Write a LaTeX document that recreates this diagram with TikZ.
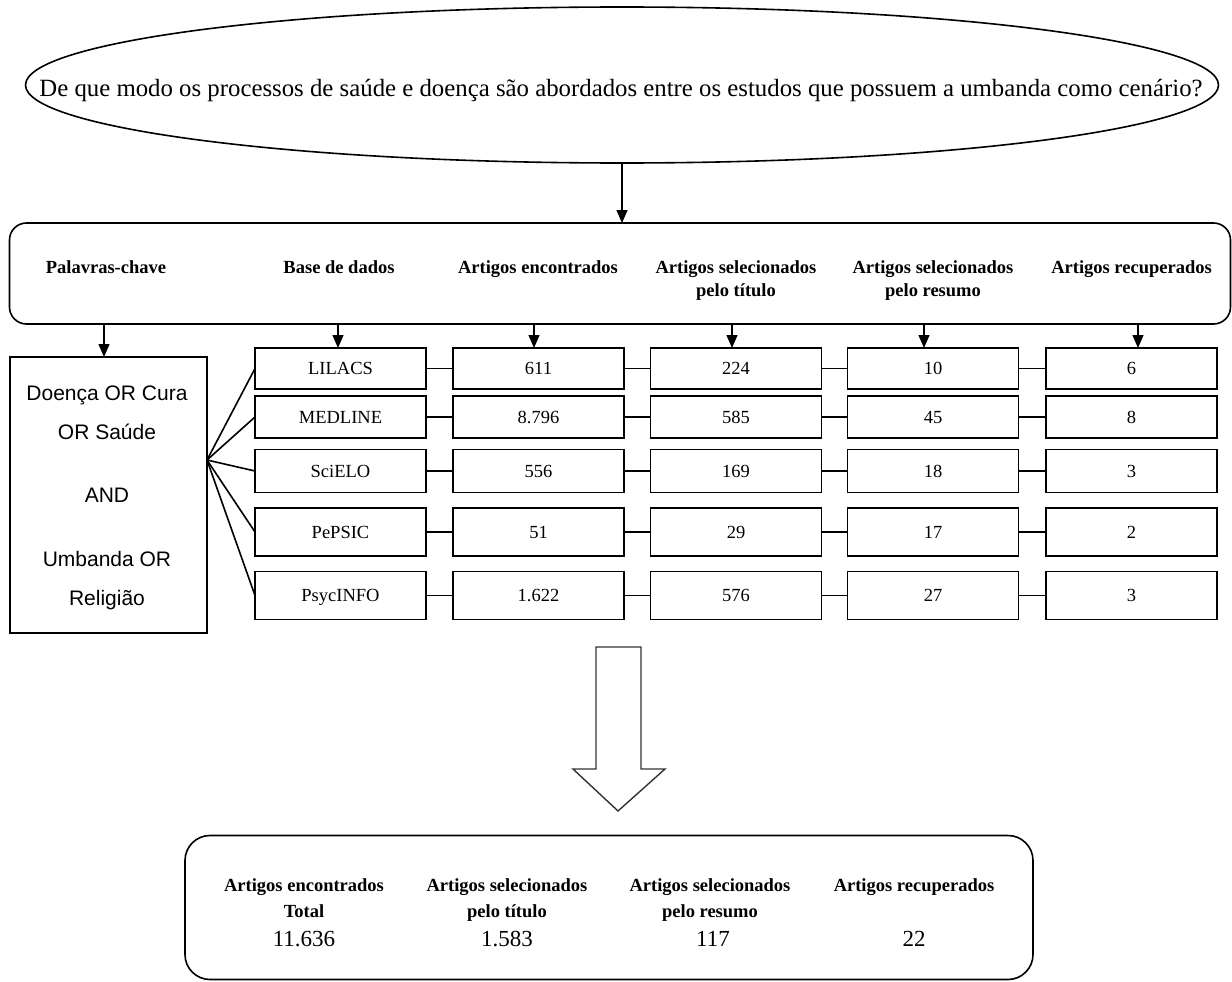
\documentclass[tikz,border=0pt]{standalone}
\usepackage{fontspec}
\setmainfont{Liberation Serif}
\newfontfamily\kwfont{Liberation Sans}
\usetikzlibrary{arrows.meta,shapes.geometric}
\begin{document}
\begin{tikzpicture}[x=1pt,y=-1pt,
  box/.style={draw,line width=1.6pt,minimum width=171pt,inner sep=0pt,outer sep=0pt,
              text height=12.5pt,text depth=0pt,font=\fontsize{18.5}{22}\selectfont},
  hdr/.style={font=\bfseries\fontsize{18.5}{23}\selectfont,align=center,inner sep=0pt},
  shdr/.style={font=\bfseries\fontsize{18.5}{26}\selectfont,align=center,inner sep=0pt},
  num/.style={font=\fontsize{23}{27}\selectfont,inner sep=0pt,anchor=base},
  arr/.style={-{Triangle[length=13pt,width=11pt]},line width=1.4pt},
  link/.style={line width=1.6pt}]

\useasboundingbox (0,0) rectangle (1232,982);

% question ellipse
\node[ellipse,draw,line width=1.6pt,minimum width=1193pt,minimum height=156pt,inner sep=0pt] (q) at (622,85) {};
\node[font=\fontsize{24.8}{30}\selectfont,inner sep=0pt,anchor=base] (qt) at (621,96.5)
  {De que modo os processos de saúde e doença são abordados entre os estudos que possuem a umbanda como cenário?};

% header box
\node[draw,rounded corners=17pt,line width=1.6pt,minimum width=1221pt,minimum height=101pt,inner sep=0pt,outer sep=0pt] (top) at (620,273.5) {};
\draw[arr] (q.south) -- (q.south |- top.north);

\node[hdr] (h1) at (106,268.4) {\strut Palavras-chave};
\node[hdr] (h2) at (339,268.4) {\strut Base de dados};
\node[hdr] (h3) at (538,268.4) {\strut Artigos encontrados};
\node[hdr] (h4) at (736,279.9) {\strut Artigos selecionados\\\strut pelo título};
\node[hdr] (h5) at (933,279.9) {\strut Artigos selecionados\\\strut pelo resumo};
\node[hdr] (h6) at (1131.5,268.4) {\strut Artigos recuperados};

% keyword box
\node[draw,line width=1.6pt,minimum width=197pt,minimum height=276pt,inner sep=0pt,outer sep=0pt] (kw) at (108.5,495) {};
\node[font=\kwfont\fontsize{21}{39}\selectfont,align=center,inner sep=0pt] (kwt) at (107,495.2)
  {\strut Doença OR Cura\\\strut OR Saúde\\[24pt]\strut AND\\[25pt]\strut Umbanda OR\\\strut Religião};
\draw[arr] (top.south -| 104,0) -- (kw.north -| 104,0);
\coordinate (fan) at ([yshift=35pt]kw.east);

% rows
\foreach \r/\y/\h/\a/\b/\c/\d/\e in {
  1/368.5/41/LILACS/611/224/10/6,
  2/417/42/MEDLINE/8.796/585/45/8,
  3/471/43/SciELO/556/169/18/3,
  4/532/48/PePSIC/51/29/17/2,
  5/595.5/48/PsycINFO/1.622/576/27/3}{
  \node[box,minimum height=\h pt] (a\r) at (340.5,\y) {\a};
  \node[box,minimum height=\h pt] (b\r) at (538.5,\y) {\b};
  \node[box,minimum height=\h pt] (c\r) at (736,\y) {\c};
  \node[box,minimum height=\h pt] (d\r) at (933,\y) {\d};
  \node[box,minimum height=\h pt] (e\r) at (1131.5,\y) {\e};
  \draw[link] (a\r) -- (b\r);
  \draw[link] (b\r) -- (c\r);
  \draw[link] (c\r) -- (d\r);
  \draw[link] (d\r) -- (e\r);
  \draw[link] (fan) -- (a\r.west);
}
\foreach \n/\x in {a/338,b/534,c/732,d/924,e/1138}{
  \draw[arr] (top.south -| \x,0) -- (\n1.north -| \x,0);
}

% block arrow
\draw[line width=1.4pt,black!80,line join=miter] (596,647) -- (641,647) -- (641,769) -- (665,769) -- (618,811) -- (573,769) -- (596,769) -- cycle;

% summary box
\node[draw,rounded corners=25pt,line width=1.6pt,minimum width=848pt,minimum height=144pt,inner sep=0pt,outer sep=0pt] (sum) at (609,907.5) {};
\node[shdr] (s1) at (304,898.8) {\strut Artigos encontrados\\\strut Total};
\node[shdr] (s2) at (507,898.8) {\strut Artigos selecionados\\\strut pelo título};
\node[shdr] (s3) at (710,898.8) {\strut Artigos selecionados\\\strut pelo resumo};
\node[shdr] (s4) at (914,885.8) {\strut Artigos recuperados};
\node[num] (n1) at (304,946) {11.636};
\node[num] (n2) at (507,946) {1.583};
\node[num] (n3) at (713,946) {117};
\node[num] (n4) at (914,946) {22};
\end{tikzpicture}
\end{document}
